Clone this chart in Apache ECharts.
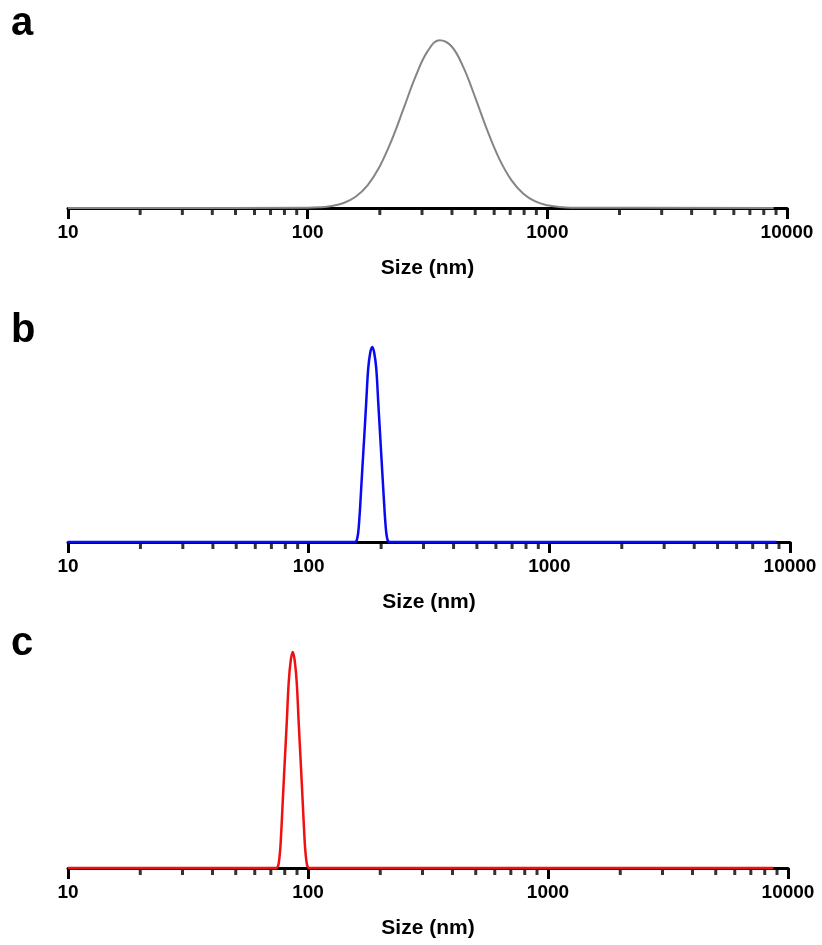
<!DOCTYPE html>
<html>
<head>
<meta charset="utf-8">
<script src="https://cdn.jsdelivr.net/npm/echarts@6/dist/echarts.min.js"></script>
<style>
	html, body { margin: 0; padding: 0; background: #fff; }
	#main { width: 822px; height: 945px; }
</style>
</head>
<body>
<div id="main"></div>
<script>
// size (nm) / intensity
var sizeA = [10, 100, 112.2, 125.9, 141.3, 158.5, 177.8, 199.5, 223.9, 251.2, 281.8, 316.2, 354.8, 398.1, 446.7, 501.2, 562.3, 631.0, 707.9, 794.3, 891.3, 1000, 1122, 1259, 8800];
var intensityA = [0, 0.01, 0.04, 0.12, 0.30, 0.67, 1.35, 2.46, 4.02, 5.91, 7.82, 9.32, 9.99, 9.63, 8.37, 6.54, 4.60, 2.91, 1.66, 0.85, 0.39, 0.16, 0.06, 0.02, 0];

var sizeB = [10, 155.4, 157.6, 159.1, 160.7, 162.2, 163.8, 166.9, 170.2, 173.4, 176.8, 180.2, 183.7, 187.2, 190.9, 194.6, 198.3, 202.1, 206.0, 208.0, 210.0, 212.0, 214.1, 217.2, 8800];
var intensityB = [0, 0, 0.08, 0.35, 1.0, 2.2, 3.8, 7.3, 10.8, 14.3, 17.8, 19.4, 20, 19.4, 17.8, 14.3, 10.8, 7.3, 3.8, 2.2, 1.0, 0.35, 0.08, 0, 0];

var sizeC = [10, 73.72, 74.78, 75.51, 76.23, 76.97, 78.46, 79.98, 81.53, 83.11, 84.72, 86.36, 88.03, 89.74, 91.48, 93.25, 95.06, 96.90, 97.84, 98.77, 99.73, 101.2, 8700];
var intensityC = [0, 0, 0.1, 0.45, 1.2, 2.4, 6.1, 9.8, 13.4, 17.2, 19.2, 20, 19.2, 17.2, 13.4, 9.8, 6.1, 2.4, 1.2, 0.45, 0.1, 0, 0];

var panelLetters = ['a', 'b', 'c'];
var minorTicks = [20, 30, 40, 50, 60, 70, 80, 90, 200, 300, 400, 500, 600, 700, 800, 900, 2000, 3000, 4000, 5000, 6000, 7000, 8000, 9000];

var FONT = '"Liberation Sans", Arial, sans-serif';

function pairs(xs, ys){
	var out = [];
	for(var i=0;i<xs.length;i++){
		out.push([xs[i], ys[i]]);
	}
	return out;
}

var grids = [
	{left: 68, right: 35, top: 40, height: 168},
	{left: 68, right: 32, top: 347, height: 195},
	{left: 68, right: 34, top: 652, height: 216}
];
var yMax = [10, 20, 20];
var curves = [pairs(sizeA, intensityA), pairs(sizeB, intensityB), pairs(sizeC, intensityC)];
var colors = ['#858585', '#0a0af0', '#f01010'];
var widths = [2, 2.5, 2.5];
var letterTop = [4, 311, 624];

var xAxes = [], yAxes = [], series = [], graphics = [];
for(var i=0;i<3;i++){
	xAxes.push({
		type: 'log',
		gridIndex: i,
		min: 10,
		max: 10000,
		logBase: 10,
		name: 'Size (nm)',
		nameLocation: 'middle',
		nameGap: 50,
		nameTextStyle: {fontFamily: FONT, fontWeight: 'bold', fontSize: 21, color: '#000'},
		axisLine: {lineStyle: {color: '#000', width: 3}},
		axisTick: {show: true, length: 11, lineStyle: {color: '#000', width: 3}},
		minorTick: {show: false},
		splitLine: {show: false},
		axisLabel: {
			margin: 15,
			fontFamily: FONT,
			fontWeight: 'bold',
			fontSize: 19,
			color: '#000',
			formatter: function(v){ return String(Math.round(v)); }
		}
	});
	yAxes.push({
		type: 'value',
		gridIndex: i,
		min: 0,
		max: yMax[i],
		show: false
	});
	// minor ticks at 20..90, 200..900, 2000..9000
	series.push({
		type: 'scatter',
		xAxisIndex: i,
		yAxisIndex: i,
		symbol: 'rect',
		symbolSize: [3, 6],
		symbolOffset: [0, 4],
		itemStyle: {color: '#000'},
		clip: false,
		silent: true,
		z: 1,
		data: minorTicks.map(function(v){ return [v, 0]; })
	});
	series.push({
		type: 'line',
		xAxisIndex: i,
		yAxisIndex: i,
		smooth: 0.4,
		showSymbol: false,
		clip: false,
		z: 3,
		lineStyle: {color: colors[i], width: widths[i]},
		data: curves[i]
	});
	graphics.push({
		type: 'text',
		left: 11,
		top: letterTop[i],
		style: {text: panelLetters[i], font: 'bold 40px ' + FONT, fill: '#000'}
	});
}

var chart = echarts.init(document.getElementById('main'));
chart.setOption({
	animation: false,
	backgroundColor: '#fff',
	grid: grids,
	xAxis: xAxes,
	yAxis: yAxes,
	series: series,
	graphic: graphics
});
</script>
</body>
</html>
